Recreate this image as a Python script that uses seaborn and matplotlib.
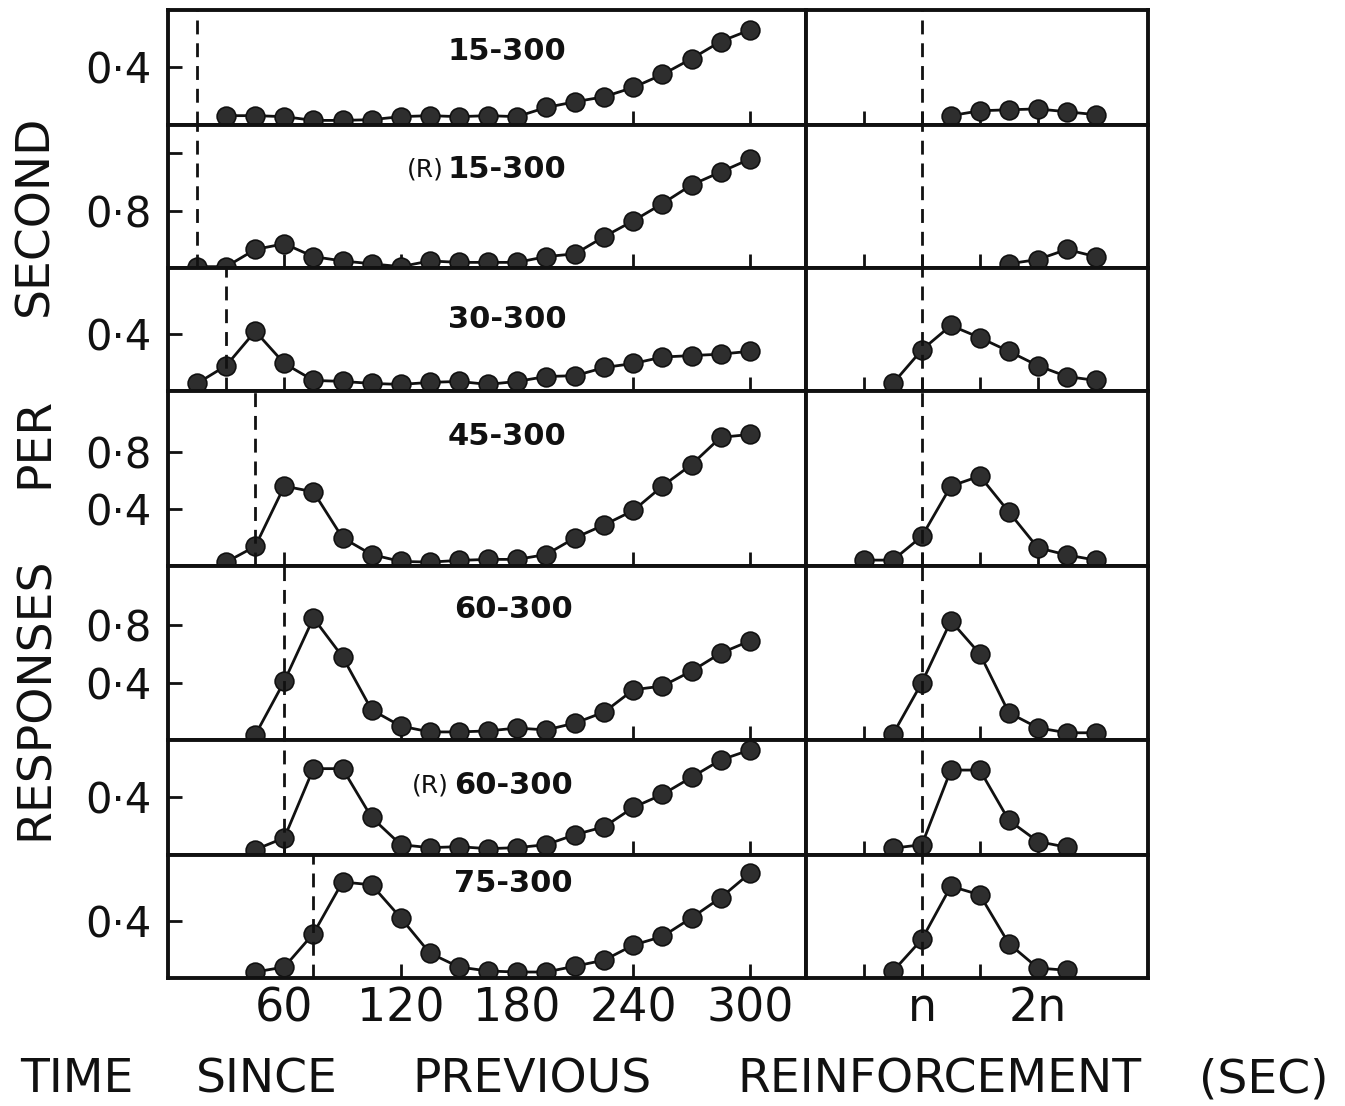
import numpy as np
import pandas as pd
import matplotlib
matplotlib.use("Agg")
import matplotlib.pyplot as plt
import seaborn as sns

# --- Data ---
# left column: response rate vs time since previous reinforcement (15 s bins)
row_labels = ["15-300", "15-300", "30-300", "45-300", "60-300", "60-300", "75-300"]
row_prefix = ["", "(R)", "", "", "", "(R)", ""]
short_interval = [15, 15, 30, 45, 60, 60, 75]      # dashed line (s)
first_bin = [30, 15, 15, 30, 45, 45, 45]

left_15 = [0.063, 0.063, 0.056, 0.03, 0.03, 0.035, 0.056, 0.063, 0.056, 0.063,
           0.056, 0.12, 0.16, 0.195, 0.26, 0.35, 0.46, 0.58, 0.66]
left_r15 = [0.41, 0.41, 0.53, 0.57, 0.48, 0.45, 0.43, 0.41, 0.45, 0.44,
            0.44, 0.44, 0.48, 0.50, 0.62, 0.73, 0.85, 0.98, 1.07, 1.16]
left_30 = [0.056, 0.18, 0.42, 0.195, 0.077, 0.07, 0.056, 0.049, 0.063, 0.07,
           0.049, 0.07, 0.104, 0.11, 0.167, 0.195, 0.24, 0.25, 0.26, 0.28]
left_45 = [0.03, 0.14, 0.56, 0.52, 0.20, 0.083, 0.035, 0.03, 0.042, 0.049,
           0.049, 0.083, 0.20, 0.29, 0.39, 0.56, 0.71, 0.90, 0.92]
left_60 = [0.035, 0.41, 0.85, 0.58, 0.21, 0.097, 0.056, 0.056, 0.063, 0.083,
           0.07, 0.118, 0.195, 0.35, 0.376, 0.48, 0.605, 0.69]
left_r60 = [0.035, 0.118, 0.60, 0.60, 0.26, 0.07, 0.049, 0.056, 0.042, 0.049,
            0.07, 0.14, 0.195, 0.33, 0.42, 0.54, 0.66, 0.73]
left_75 = [0.042, 0.077, 0.31, 0.67, 0.65, 0.42, 0.174, 0.077, 0.049, 0.042,
           0.042, 0.083, 0.125, 0.23, 0.29, 0.42, 0.56, 0.73]
left_rates = [left_15, left_r15, left_30, left_45, left_60, left_r60, left_75]

# right column: same rates, time in units of the short interval n
right_x = [
    [1.25, 1.5, 1.75, 2.0, 2.25, 2.5],
    [1.75, 2.0, 2.25, 2.5],
    [0.75, 1.0, 1.25, 1.5, 1.75, 2.0, 2.25, 2.5],
    [0.5, 0.75, 1.0, 1.25, 1.5, 1.75, 2.0, 2.25, 2.5],
    [0.75, 1.0, 1.25, 1.5, 1.75, 2.0, 2.25, 2.5],
    [0.75, 1.0, 1.25, 1.5, 1.75, 2.0, 2.25],
    [0.75, 1.0, 1.25, 1.5, 1.75, 2.0, 2.25],
]
right_rates = [
    [0.063, 0.097, 0.104, 0.11, 0.09, 0.07],
    [0.43, 0.46, 0.53, 0.48],
    [0.056, 0.29, 0.46, 0.375, 0.28, 0.18, 0.104, 0.077],
    [0.044, 0.044, 0.21, 0.56, 0.63, 0.38, 0.13, 0.08, 0.044],
    [0.04, 0.40, 0.83, 0.60, 0.19, 0.085, 0.05, 0.05],
    [0.045, 0.07, 0.59, 0.59, 0.24, 0.092, 0.052],
    [0.047, 0.27, 0.64, 0.58, 0.24, 0.07, 0.054],
]

y_lims = [(0, 0.80), (0.4, 1.40), (0, 0.86), (0, 1.22), (0, 1.21), (0, 0.80), (0, 0.86)]
y_ticks = [[0.4], [0.8, 1.2], [0.4], [0.4, 0.8], [0.4, 0.8], [0.4], [0.4]]
y_tick_labels = [["0·4"], ["0·8", ""], ["0·4"], ["0·4", "0·8"], ["0·4", "0·8"], ["0·4"], ["0·4"]]

left_ticks = [60, 120, 180, 240, 300]
right_ticks = [0.5, 1.0, 1.5, 2.0]
right_tick_labels = ["", "n", "", "2n"]

# label placement (x in seconds, y as axes fraction)
label_x = [175, 175, 175, 175, 178, 178, 178]
label_y = [0.64, 0.69, 0.58, 0.74, 0.75, 0.60, 0.77]

# --- Style ---
sns.set_style("ticks")
plt.rcParams['font.family'] = ['DejaVu Sans']
INK = "#111111"
line_kw = dict(color=INK, linewidth=2.0, marker="o", markersize=13.5,
               markerfacecolor="#2e2e2e", markeredgecolor=INK, markeredgewidth=1.2)
dash_kw = dict(color=INK, linewidth=2.0, linestyle=(0, (5, 3.2)))

fig = plt.figure(figsize=(13.45, 11.06), dpi=100)
gs = fig.add_gridspec(7, 2, left=0.1249, right=0.8535, top=0.991, bottom=0.1157,
                      hspace=0, wspace=0,
                      height_ratios=[hi - lo for lo, hi in y_lims],
                      width_ratios=[638, 342])

for i in range(7):
    axl = fig.add_subplot(gs[i, 0])
    axr = fig.add_subplot(gs[i, 1])

    t = np.arange(first_bin[i], 301, 15)
    dfl = pd.DataFrame({"t": t, "rate": left_rates[i]})
    sns.lineplot(data=dfl, x="t", y="rate", ax=axl, **line_kw)
    axl.axvline(short_interval[i], **dash_kw)

    dfr = pd.DataFrame({"t": right_x[i], "rate": right_rates[i]})
    sns.lineplot(data=dfr, x="t", y="rate", ax=axr, **line_kw)
    axr.axvline(1.0, **dash_kw)

    axl.set_xlim(0, 329)
    axr.set_xlim(0, 2.95)
    for ax in (axl, axr):
        ax.set_ylim(*y_lims[i])
        ax.set_xlabel("")
        ax.set_ylabel("")
        for sp in ax.spines.values():
            sp.set_visible(True)
            sp.set_linewidth(2.8)
            sp.set_color(INK)
        ax.tick_params(direction="in", length=10, width=2.0, colors=INK)

    axl.set_yticks(y_ticks[i])
    axl.set_yticklabels(y_tick_labels[i], fontsize=30)
    axl.tick_params(axis="y", pad=12)
    axr.set_yticks([])

    axl.set_xticks(left_ticks)
    axr.set_xticks(right_ticks)
    if i == 6:
        axl.set_xticklabels([str(v) for v in left_ticks], fontsize=33)
        axr.set_xticklabels(right_tick_labels, fontsize=33)
        axl.tick_params(axis="x", pad=6)
        axr.tick_params(axis="x", pad=6)
    else:
        axl.set_xticklabels([])
        axr.set_xticklabels([])

    tr = axl.get_xaxis_transform()
    axl.text(label_x[i], label_y[i], row_labels[i], transform=tr,
             ha="center", va="center", fontsize=22, fontweight="bold", color=INK)
    if row_prefix[i]:
        axl.text(label_x[i] - 33, label_y[i], row_prefix[i], transform=tr,
                 ha="right", va="center", fontsize=18, color=INK)

# axis titles, word by word as in the original
W, H = 1345, 1106
for word, yc in [("SECOND", 215), ("PER", 442), ("RESPONSES", 698)]:
    fig.text(35 / W, 1 - yc / H, word, rotation=90, ha="center", va="center",
             fontsize=34, color=INK)
for word, xc in [("TIME", 77), ("SINCE", 267), ("PREVIOUS", 532),
                 ("REINFORCEMENT", 939), ("(SEC)", 1264)]:
    fig.text(xc / W, 1 - 1080 / H, word, ha="center", va="center",
             fontsize=34, color=INK)

fig.savefig("out.png", dpi=100)
